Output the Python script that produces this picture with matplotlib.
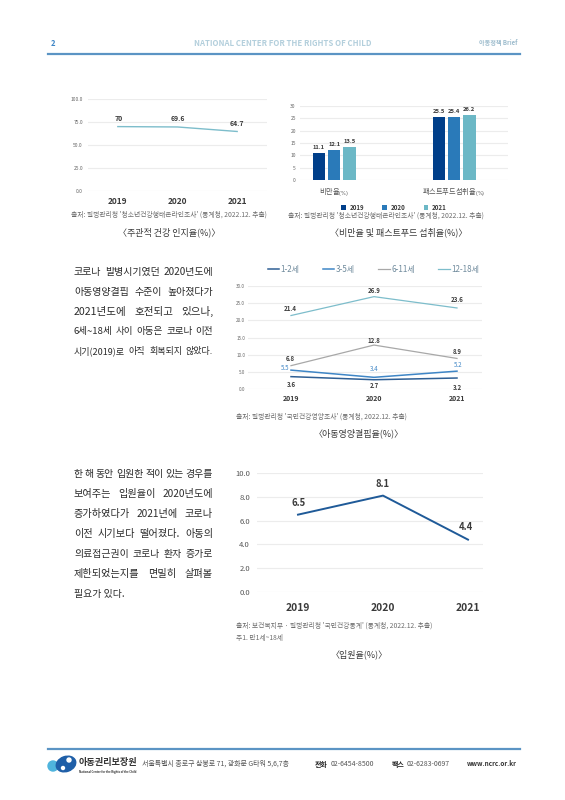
import matplotlib
matplotlib.use("Agg")
import matplotlib.pyplot as plt
import numpy as np
from matplotlib.patches import Circle, Ellipse

plt.rcParams['font.family'] = ['Noto Sans CJK KR', 'DejaVu Sans']

W, H = 565, 800

years = ["2019", "2020", "2021"]

health_vals = [70, 69.6, 64.7]
health_labels = ["70", "69.6", "64.7"]

bar_groups = ["비만율", "패스트푸드섭취율"]
obesity_vals = [11.1, 12.1, 13.5]
fastfood_vals = [25.5, 25.4, 26.2]

age_names = ["1-2세", "3-5세", "6-11세", "12-18세"]
age_1_2 = [3.6, 2.7, 3.2]
age_3_5 = [5.5, 3.4, 5.2]
age_6_11 = [6.8, 12.8, 8.9]
age_12_18 = [21.4, 26.9, 23.6]

hosp_vals = [6.5, 8.1, 4.4]

para1 = ["코로나 발병시기였던 2020년도에", "아동영양결핍 수준이 높아졌다가",
         "2021년도에 호전되고 있으나,", "6세~18세 사이 아동은 코로나 이전",
         "시기(2019)로 아직 회복되지 않았다."]
para1_sizes = [7.2, 7.2, 7.6, 6.9, 6.5]
para2 = ["한 해 동안 입원한 적이 있는 경우를", "보여주는 입원율이 2020년도에",
         "증가하였다가 2021년에 코로나", "이전 시기보다 떨어졌다. 아동의",
         "의료접근권이 코로나 환자 증가로", "제한되었는지를 면밀히 살펴볼", "필요가 있다."]
para2_sizes = [7.1, 7.3, 7.3, 7.3, 7.1, 7.3, 7.1]

TXT = "#3a3a3a"
GRID = "#ececec"
SRC = "#6b6b6b"

fig = plt.figure(figsize=(W / 100, H / 100), dpi=100, facecolor="white")


def px_axes(x0, x1, ytop, ybot):
    ax = fig.add_axes([x0 / W, 1 - ybot / H, (x1 - x0) / W, (ybot - ytop) / H])
    ax.patch.set_alpha(0)
    for s in ax.spines.values():
        s.set_visible(False)
    ax.grid(axis="y", color=GRID, lw=0.8)
    ax.set_axisbelow(True)
    return ax


def txt(x, y, s, size, color=TXT, ha="left", **kw):
    return fig.text(x / W, 1 - y / H, s, fontsize=size, color=color, ha=ha, va="center", **kw)


def justified(lines, sizes, x0, x1, ytop, step, last_free=False):
    rend = fig.canvas.get_renderer()
    for i, line in enumerate(lines):
        y = ytop + i * step
        words = line.split(" ")
        if last_free and i == len(lines) - 1:
            txt(x0, y, line, sizes[i], color="#2b2b2b")
            continue
        items = [txt(x0, y, w, sizes[i], color="#2b2b2b") for w in words]
        widths = [t.get_window_extent(rend).width for t in items]
        gap = (x1 - x0 - sum(widths)) / max(len(words) - 1, 1)
        x = x0
        for t, w_ in zip(items, widths):
            t.set_x(x / W)
            x += w_ + gap


def point_labels(ax, xs, ys, labels, offs, size, color=TXT, **kw):
    for x, y, lab, off in zip(xs, ys, labels, offs):
        ax.annotate(lab, (x, y), xytext=(off[0] * 0.72, off[1] * 0.72), textcoords="offset points",
                    ha="center", va="center", fontsize=size, color=color, **kw)


# header
txt(51, 43, "2", 5.5, color="#3f86c6", fontweight="bold")
txt(283, 43, "NATIONAL CENTER FOR THE RIGHTS OF CHILD", 5.65, color="#b3cfdc", ha="center", fontweight="bold")
txt(517, 43, "아동정책 Brief", 4.4, color="#9dbccd", ha="right", fontweight="bold")
fig.add_artist(plt.Line2D([48 / W, 520 / W], [1 - 54 / H] * 2, color="#5b94c4", lw=1.6))

# chart 1
ax1 = px_axes(88, 267, 99, 191)
x = np.arange(3)
ax1.plot(x, health_vals, color="#7dbdcb", lw=1)
ax1.set_xlim(-0.5, 2.5)
ax1.set_ylim(0, 100)
ax1.set_yticks([0, 25, 50, 75, 100], ["0.0", "25.0", "50.0", "75.0", "100.0"])
ax1.set_xticks(x, years, fontweight="bold")
ax1.tick_params(axis="y", length=0, labelsize=3.6, labelcolor="#666666", pad=3.6)
ax1.tick_params(axis="x", length=0, labelsize=6, labelcolor=TXT, pad=4)
point_labels(ax1, x, health_vals, health_labels, [(1, 8), (0, 8), (0, 8)], 5, fontweight="bold")
txt(169, 215, "출처: 질병관리청 '청소년건강행태온라인조사' (통계청, 2022.12. 추출)", 4.85, color=SRC, ha="center")
txt(169, 232, "〈주관적 건강 인지율(%)〉", 6.5, ha="center")

# chart 2
ax2 = px_axes(300, 508, 106, 180)
pos = np.arange(2)
bw = 0.103
bar_cols = ["#003f8a", "#2a7ab9", "#6cb8c6"]
for i in range(3):
    vals = [obesity_vals[i], fastfood_vals[i]]
    bars = ax2.bar(pos + (i - 1) * 0.128, vals, bw, color=bar_cols[i], label=years[i])
    for b, v in zip(bars, vals):
        ax2.annotate(str(v), (b.get_x() + bw / 2, v), xytext=(0, 4), textcoords="offset points",
                     ha="center", va="center", fontsize=4.2, color=TXT, fontweight="bold")
ax2.set_xlim(-0.285, 1.45)
ax2.set_ylim(0, 30)
ax2.set_yticks(range(0, 31, 5))
ax2.set_xticks(pos, ["비만율$_{(\\%)}$", "패스트푸드섭취율$_{(\\%)}$"])
ax2.tick_params(axis="y", length=0, labelsize=3.6, labelcolor="#666666", pad=3)
ax2.tick_params(axis="x", length=0, labelsize=5.2, labelcolor="#555555", pad=4.5)
ax2.legend(loc="center", bbox_to_anchor=(0.452, -0.365), ncol=3, frameon=False,
           handlelength=0.8, handleheight=0.8, columnspacing=2.95, handletextpad=0.6,
           labelcolor=TXT, prop={"size": 4.4, "weight": "bold"})
txt(386, 216, "출처: 질병관리청 '청소년건강행태온라인조사' (통계청, 2022.12. 추출)", 4.85, color=SRC, ha="center")
txt(399, 232, "〈비만율 및 패스트푸드 섭취율(%)〉", 6.5, ha="center")

# paragraph 1
justified(para1, para1_sizes, 74, 213, 272, 19.8)

# chart 3
ax3 = px_axes(248, 482, 286, 389)
ax3.plot(x, age_1_2, color="#2f5f94", lw=1.1, label=age_names[0])
ax3.plot(x, age_3_5, color="#3f86c6", lw=1.1, label=age_names[1])
ax3.plot(x, age_6_11, color="#a8a8a8", lw=0.9, label=age_names[2])
ax3.plot(x, age_12_18, color="#7dbdcb", lw=0.9, label=age_names[3])
ax3.set_xlim(-43 / 83, 2 + 25 / 83)
ax3.set_ylim(0, 30)
ax3.set_yticks(range(0, 31, 5), [f"{v:.1f}" for v in range(0, 31, 5)])
ax3.set_xticks(x, years, fontweight="bold")
ax3.tick_params(axis="y", length=0, labelsize=3.3, labelcolor="#666666", pad=2)
ax3.tick_params(axis="x", length=0, labelsize=5, labelcolor=TXT, pad=4)
for vals, offs, c in [(age_1_2, [(0, -8), (0, -6), (0, -9)], TXT),
                      (age_3_5, [(-6, 2), (0, 8), (1, 6)], "#3f86c6"),
                      (age_6_11, [(-1, 7), (0, 5), (0, 7)], TXT),
                      (age_12_18, [(-1, 7), (0, 6), (0, 8)], TXT)]:
    point_labels(ax3, x, vals, [str(v) for v in vals], offs, 4.4, color=c, fontweight="bold" if c == TXT else "normal")
ax3.legend(loc="center", bbox_to_anchor=(0.536, 1.16), ncol=4, frameon=False, fontsize=5.8,
           handlelength=1.4, columnspacing=2.9, handletextpad=0.2, labelcolor="#6f8a9c")
txt(236, 417, "출처: 질병관리청 '국민건강영양조사' (통계청, 2022.12. 추출)", 4.85, color=SRC)
txt(359, 433, "〈아동영양결핍율(%)〉", 6.5, ha="center")

# paragraph 2
justified(para2, para2_sizes, 74, 213, 474, 20, last_free=True)

# chart 4
ax4 = px_axes(257, 483, 473, 592)
ax4.plot(x, hosp_vals, color="#1f5a98", lw=1.4)
ax4.set_xlim(-41 / 85, 2 + 15 / 85)
ax4.set_ylim(0, 10)
ax4.set_yticks(range(0, 11, 2), [f"{v:.1f}" for v in range(0, 11, 2)])
ax4.set_xticks(x, years, fontweight="bold")
ax4.tick_params(axis="y", length=0, labelsize=5.5, labelcolor="#555555", pad=5)
ax4.tick_params(axis="x", length=0, labelsize=7.4, labelcolor=TXT, pad=8)
point_labels(ax4, x, hosp_vals, [str(v) for v in hosp_vals], [(1, 12), (0, 12), (-2, 13)], 6.8, fontweight="bold")
txt(236, 626, "출처: 보건복지부 · 질병관리청 '국민건강통계' (통계청, 2022.12. 추출)", 4.85, color=SRC)
txt(236, 638, "주1. 만1세~18세", 4.85, color=SRC)
txt(359, 654, "〈입원율(%)〉", 6.5, ha="center")

# footer
fig.add_artist(plt.Line2D([48 / W, 520 / W], [1 - 749 / H] * 2, color="#5b94c4", lw=1.6))
logo = fig.add_axes([0, 0, 1, 1], zorder=5)
logo.set_xlim(0, W)
logo.set_ylim(H, 0)
logo.axis("off")
logo.add_patch(Circle((53, 766), 5, color="#4fb4dd"))
logo.add_patch(Ellipse((66, 764), 20, 15, angle=-20, color="#1f5fa8"))
logo.add_patch(Circle((69, 760), 2, color="white"))
logo.add_patch(Circle((63, 768), 1.5, color="white"))
txt(79, 762, "아동권리보장원", 6.6, color="#333333", fontweight="bold")
txt(79, 771.5, "National Center for the Rights of the Child", 2, color="#333333", fontweight="bold")
txt(142, 764, "서울특별시 종로구 삼봉로 71, 광화문 G타워 5,6,7층", 5, color="#555555")
txt(315, 764, "전화", 5, color="#222222", fontweight="bold")
txt(331, 764, "02-6454-8500", 5, color="#555555")
txt(392, 764, "팩스", 5, color="#222222", fontweight="bold")
txt(407, 764, "02-6283-0697", 5, color="#555555")
txt(517, 764, "www.ncrc.or.kr", 4.6, color="#333333", ha="right", fontweight="bold")

fig.savefig("out.png", dpi=100)
